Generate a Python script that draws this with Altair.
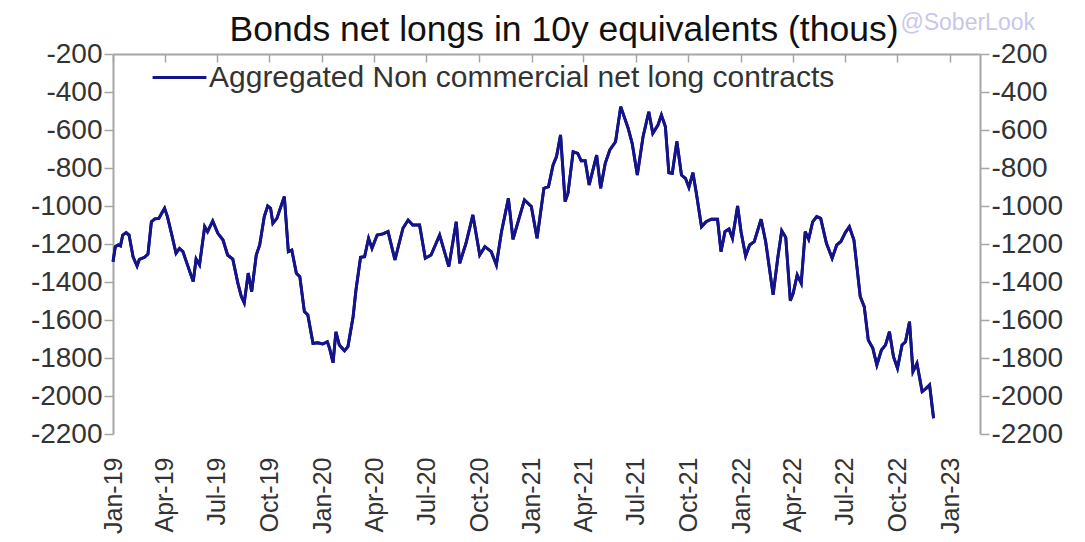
import altair as alt
import pandas as pd

# ---- data ----
dates = [
    "2019-01-01", "2019-01-05", "2019-01-10", "2019-01-14", "2019-01-18", "2019-01-24", "2019-01-29",
    "2019-02-05", "2019-02-12", "2019-02-16", "2019-02-25", "2019-03-03", "2019-03-09", "2019-03-15",
    "2019-03-22", "2019-03-27", "2019-04-01", "2019-04-06", "2019-04-13", "2019-04-21", "2019-04-27",
    "2019-05-03", "2019-05-12", "2019-05-21", "2019-05-26", "2019-06-01", "2019-06-10", "2019-06-15",
    "2019-06-24", "2019-07-03", "2019-07-12", "2019-07-20", "2019-07-29", "2019-08-07", "2019-08-13",
    "2019-08-18", "2019-08-25", "2019-08-31", "2019-09-08", "2019-09-14", "2019-09-22", "2019-09-28",
    "2019-10-03", "2019-10-07", "2019-10-14", "2019-10-21", "2019-10-27", "2019-11-03", "2019-11-09",
    "2019-11-17", "2019-11-23", "2019-12-01", "2019-12-07", "2019-12-16", "2019-12-24", "2020-01-02",
    "2020-01-10", "2020-01-14", "2020-01-20", "2020-01-25", "2020-01-31", "2020-02-09", "2020-02-15",
    "2020-02-24", "2020-02-29", "2020-03-08", "2020-03-15", "2020-03-22", "2020-03-28", "2020-04-06",
    "2020-04-16", "2020-04-25", "2020-05-07", "2020-05-21", "2020-05-30", "2020-06-07", "2020-06-19",
    "2020-06-29", "2020-07-09", "2020-07-24", "2020-08-09", "2020-08-22", "2020-08-28", "2020-09-08",
    "2020-09-20", "2020-10-02", "2020-10-11", "2020-10-22", "2020-10-31", "2020-11-09", "2020-11-21",
    "2020-11-29", "2020-12-19", "2020-12-31", "2021-01-10", "2021-01-22", "2021-01-30", "2021-02-07",
    "2021-02-13", "2021-02-20", "2021-02-28", "2021-03-05", "2021-03-14", "2021-03-22", "2021-03-28",
    "2021-04-04", "2021-04-11", "2021-04-24", "2021-05-01", "2021-05-09", "2021-05-17", "2021-05-27",
    "2021-06-05", "2021-06-18", "2021-06-25", "2021-07-04", "2021-07-14", "2021-07-24", "2021-07-31",
    "2021-08-09", "2021-08-15", "2021-08-22", "2021-08-28", "2021-09-03", "2021-09-11", "2021-09-19",
    "2021-09-26", "2021-10-02", "2021-10-09", "2021-10-15", "2021-10-24", "2021-11-01", "2021-11-10",
    "2021-11-21", "2021-11-27", "2021-12-04", "2021-12-11", "2021-12-17", "2021-12-26", "2022-01-01",
    "2022-01-09", "2022-01-16", "2022-01-24", "2022-02-05", "2022-02-13", "2022-02-26", "2022-03-06",
    "2022-03-13", "2022-03-20", "2022-03-28", "2022-04-02", "2022-04-09", "2022-04-16", "2022-04-23",
    "2022-04-29", "2022-05-06", "2022-05-13", "2022-05-20", "2022-05-30", "2022-06-09", "2022-06-17",
    "2022-06-24", "2022-07-02", "2022-07-09", "2022-07-17", "2022-07-28", "2022-08-04", "2022-08-11",
    "2022-08-19", "2022-08-26", "2022-09-03", "2022-09-10", "2022-09-17", "2022-09-24", "2022-10-01",
    "2022-10-09", "2022-10-15", "2022-10-22", "2022-10-28", "2022-11-04", "2022-11-13", "2022-11-20",
    "2022-11-26", "2022-12-03",
]
net_longs = [
    -1293, -1214, -1205, -1210, -1153, -1140, -1153,
    -1267, -1316, -1281, -1270, -1253, -1083, -1068,
    -1065, -1038, -1012, -1056, -1144, -1249, -1223,
    -1240, -1319, -1398, -1279, -1310, -1109, -1135,
    -1079, -1144, -1179, -1258, -1279, -1407, -1477,
    -1510, -1353, -1451, -1258, -1205, -1056, -1000,
    -1012, -1091, -1065, -1003, -950, -1240, -1232,
    -1354, -1372, -1556, -1574, -1723, -1720, -1726,
    -1714, -1749, -1825, -1662, -1732, -1762, -1740,
    -1583, -1442, -1270, -1267, -1170, -1223, -1153,
    -1147, -1135, -1284, -1117, -1074, -1100, -1100,
    -1275, -1258, -1153, -1319, -1083, -1302, -1196,
    -1047, -1258, -1214, -1240, -1310, -1135, -960,
    -1175, -968, -1003, -1170, -907, -898, -784,
    -740, -626, -977, -933, -714, -723, -762,
    -762, -889, -732, -907, -775, -705, -662,
    -477, -591, -670, -837, -635, -504, -617,
    -574, -521, -583, -825, -828, -660, -837,
    -854, -902, -825, -933, -1109, -1083, -1070,
    -1070, -1240, -1135, -1121, -1170, -1000, -1135,
    -1263, -1205, -1188, -1070, -1188, -1468, -1275,
    -1130, -1165, -1498, -1460, -1363, -1407, -1135,
    -1175, -1083, -1056, -1065, -1196, -1275, -1205,
    -1188, -1140, -1109, -1179, -1477, -1530, -1705,
    -1749, -1837, -1758, -1732, -1662, -1793, -1854,
    -1732, -1714, -1609, -1872, -1828, -1977, -1960,
    -1942, -2117,
]
series_name = "Aggregated Non commercial net long contracts"
x_ticks = ["2019-01-01", "2019-04-01", "2019-07-01", "2019-10-01",
           "2020-01-01", "2020-04-01", "2020-07-01", "2020-10-01",
           "2021-01-01", "2021-04-01", "2021-07-01", "2021-10-01",
           "2022-01-01", "2022-04-01", "2022-07-01", "2022-10-01",
           "2023-01-01"]
x_range = ["2019-01-01", "2023-02-22"]
y_ticks = [-2200, -2000, -1800, -1600, -1400, -1200, -1000, -800, -600, -400, -200]
y_range = [-2200, -200]
title_text = "Bonds net longs in 10y equivalents (thous)"
watermark = "@SoberLook"

df = pd.DataFrame({"date": pd.to_datetime(dates), "value": net_longs, "series": series_name})


def dt(s):
    y, m, d = (int(p) for p in s.split("-"))
    return alt.DateTime(year=y, month=m, date=d)


FONT = "Liberation Sans"
AX = "#a6a6a6"
LBL = "#333333"
LINE = "#13138a"
W, H = 867, 380

xscale = alt.Scale(domain=[dt(x_range[0]), dt(x_range[1])], nice=False)
yscale = alt.Scale(domain=y_range, nice=False, zero=False)

yaxis_common = dict(values=y_ticks, labelExpr="'' + datum.value", grid=False,
                    domainColor=AX, domainWidth=2, tickColor=AX, tickWidth=1.5, tickSize=9,
                    labelFont=FONT, labelFontSize=28, labelColor=LBL, labelPadding=2, title=None)

main = alt.Chart(df).mark_line(strokeWidth=2.9).encode(
    x=alt.X("date:T", scale=xscale,
            axis=alt.Axis(orient="bottom", values=[dt(s) for s in x_ticks], format="%b-%y",
                          labelAngle=270, domain=False, ticks=False, grid=False,
                          labelFont=FONT, labelFontSize=25, labelColor=LBL, labelPadding=23,
                          title=None)),
    y=alt.Y("value:Q", scale=yscale, axis=alt.Axis(orient="left", **yaxis_common)),
    color=alt.Color("series:N", scale=alt.Scale(range=[LINE]),
                    legend=alt.Legend(orient="none", legendX=38, legendY=-5, title=None,
                                      symbolType="stroke", symbolSize=2900, symbolStrokeWidth=2.9,
                                      labelFont=FONT, labelFontSize=30, labelColor=LBL,
                                      labelLimit=1000, labelOffset=1)),
)

frame = alt.Chart(df).mark_line(strokeWidth=2.9, color=LINE).encode(
    x=alt.X("date:T", scale=xscale,
            axis=alt.Axis(orient="bottom", offset=-H, values=[dt(s) for s in x_ticks],
                          labels=False, domain=True, ticks=True, grid=False,
                          domainColor=AX, domainWidth=2, tickColor=AX, tickWidth=1.5, tickSize=8,
                          title=None)),
    y=alt.Y("value:Q", scale=yscale, axis=alt.Axis(orient="right", **yaxis_common)),
)

title_mark = alt.Chart(pd.DataFrame({"t": [title_text]})).mark_text(
    font=FONT, fontSize=35.5, color="#111111", align="center", baseline="alphabetic"
).encode(text="t:N", x=alt.value(451), y=alt.value(-13))

wm_mark = alt.Chart(pd.DataFrame({"t": [watermark]})).mark_text(
    font=FONT, fontSize=23, color="#c8c8ec", align="right", baseline="alphabetic"
).encode(text="t:N", x=alt.value(922), y=alt.value(-24))

chart = alt.layer(main, frame, title_mark, wm_mark).resolve_axis(
    x="independent", y="independent"
).properties(
    width=W, height=H,
    autosize=alt.AutoSizeParams(type="none"),
    padding={"left": 105, "top": 46, "right": 90, "bottom": 104},
).configure_view(stroke=None)

chart.save("out.html", embed_options={"renderer": "svg", "actions": False})
